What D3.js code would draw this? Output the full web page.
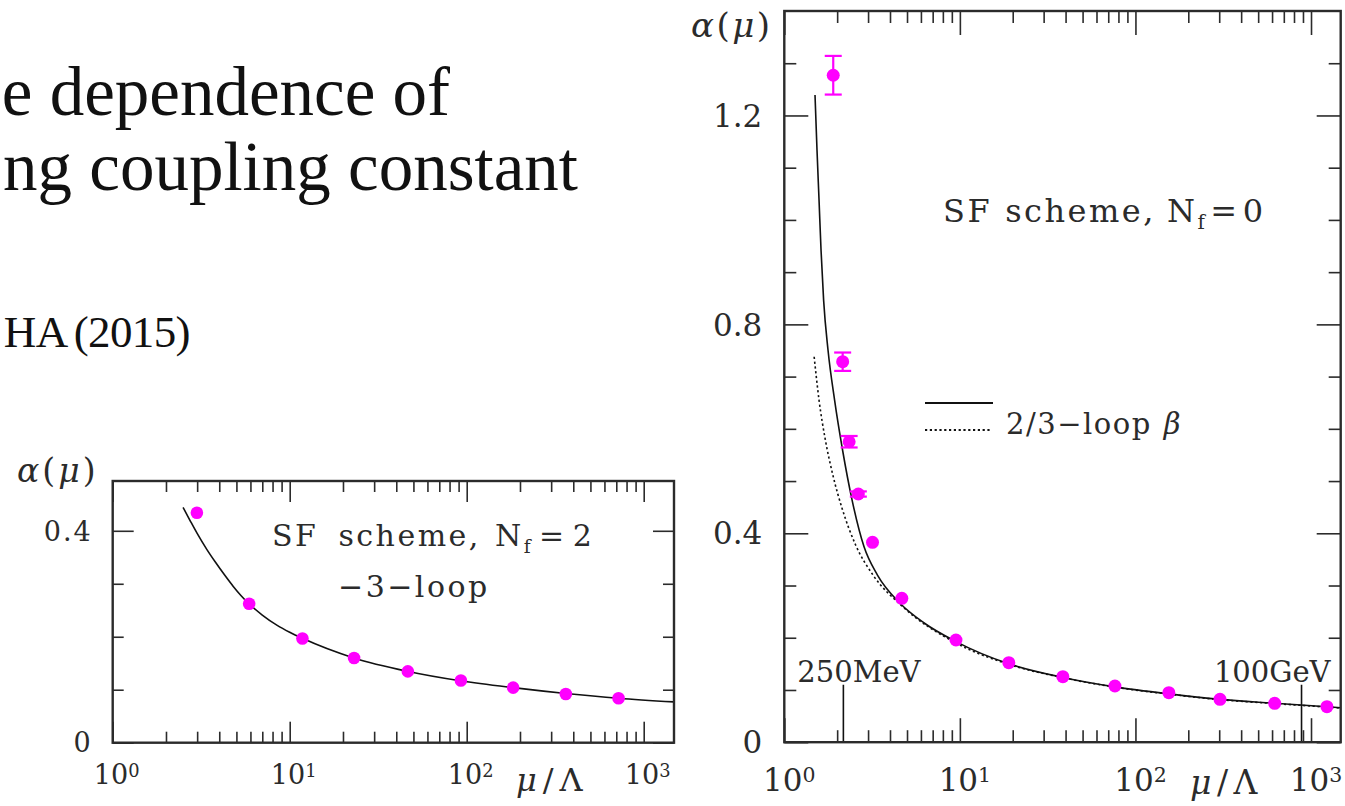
<!DOCTYPE html>
<html>
<head>
<meta charset="utf-8">
<script src="https://cdn.jsdelivr.net/npm/d3@7"></script>
<style>
html, body { margin: 0; padding: 0; background: #fff; }
svg { display: block; }
</style>
</head>
<body>
<div id="chart"></div>
<script>
// ---- data ----
const titleLines = ["e dependence of", "ng coupling constant"];
const citation = ["HA", "(2015)"];

// left panel: SF scheme, Nf=2
const leftMu = [2.99, 5.9, 11.8, 23.1, 46.5, 92.7, 183, 363, 721];
const leftAlpha = [0.434, 0.2622, 0.1968, 0.160, 0.1346, 0.1175, 0.104, 0.092, 0.0838];
const leftCurveMu = [2.5, 2.75, 3.0, 3.4, 3.8, 4.3, 4.8, 5.3, 5.9, 7, 8.5, 10, 11.8, 23, 46, 92, 183, 363, 721, 1483];
const leftCurveAlpha = [0.444, 0.418, 0.395, 0.365, 0.341, 0.316, 0.295, 0.278, 0.262, 0.241, 0.2215, 0.2085, 0.197, 0.160, 0.135, 0.117, 0.104, 0.093, 0.084, 0.077];
const leftYMinor = [0.1, 0.2, 0.3];
const leftYMajor = [0, 0.4];

// right panel: SF scheme, Nf=0
const rightMu = [1.90, 2.15, 2.34, 2.64, 3.18, 4.67, 9.5, 19.0, 38.6, 76.4, 155, 303, 621, 1232];
const rightAlpha = [1.277, 0.7285, 0.5753, 0.4752, 0.3827, 0.2755, 0.1957, 0.1523, 0.1255, 0.1076, 0.0948, 0.0821, 0.0745, 0.068];
const rightErr = [0.037, 0.0176, 0.011, 0.005, 0, 0, 0, 0, 0, 0, 0, 0, 0, 0];
const solidMu = [1.496, 1.536, 1.577, 1.619, 1.675, 1.774, 1.934, 2.148, 2.431, 2.846, 3.393, 4.546, 6.26, 9.5, 19, 38.6, 76.4, 155, 303, 621, 1476];
const solidAlpha = [1.239, 1.133, 1.038, 0.942, 0.846, 0.751, 0.655, 0.559, 0.464, 0.374, 0.320, 0.2665, 0.2282, 0.1925, 0.150, 0.124, 0.106, 0.0925, 0.082, 0.0745, 0.066];
const dottedMu = [1.479, 1.577, 1.715, 1.889, 2.146, 2.545, 3.202, 4.667, 9.5, 19, 38.6, 76.4, 155, 303, 621, 1476];
const dottedAlpha = [0.738, 0.655, 0.578, 0.512, 0.445, 0.378, 0.320, 0.261, 0.190, 0.149, 0.1235, 0.1055, 0.092, 0.0815, 0.074, 0.0655];
const rightYMinor = [0.1, 0.2, 0.3, 0.5, 0.6, 0.7, 0.9, 1.0, 1.1, 1.3];
const rightYMajor = [0, 0.4, 0.8, 1.2];
const markerMu = [2.17, 883];
const markerLabels = ["250MeV", "100GeV"];

const decades = [1, 10, 100, 1000];
const decadeExp = ["0", "1", "2", "3"];

// ---- page ----
const W = 1345, H = 806;
const ink = "#2b2b2b";
const magenta = "#ff00ff";
const serif = "DejaVu Serif";

const svg = d3.select("#chart").append("svg")
    .attr("width", W)
    .attr("height", H);

svg.append("rect").attr("width", W).attr("height", H).attr("fill", "#fff");

// title fragment (the slide text is cropped at the left)
const title = svg.append("g")
    .attr("font-family", "Liberation Serif")
    .attr("fill", "#111")
    .attr("text-anchor", "end");
title.append("text").attr("x", 450).attr("y", 115).attr("font-size", 69).text(titleLines[0]);
title.append("text").attr("x", 578).attr("y", 190).attr("font-size", 69).text(titleLines[1]);
const cit = title.append("text").attr("x", 190).attr("y", 347).attr("font-size", 45)
    .attr("letter-spacing", -0.6);
cit.append("tspan").text(citation[0]);
cit.append("tspan").attr("dx", 6).text(citation[1]);

function drawFrame(g, x, y, p) {
    const [xa, xb] = x.range();
    const [ya, yb] = y.range();
    const minorX = x.ticks().filter(v => !decades.includes(v));

    const styleTicks = sel => {
        sel.select(".domain").remove();
        sel.selectAll("line").attr("stroke", ink).attr("stroke-width", 1.6);
        sel.selectAll("text").remove();
    };

    g.append("g").attr("transform", `translate(0,${ya})`)
        .call(d3.axisBottom(x).tickValues(minorX).tickSize(-p.minor)).call(styleTicks);
    g.append("g").attr("transform", `translate(0,${ya})`)
        .call(d3.axisBottom(x).tickValues(decades).tickSize(-p.major)).call(styleTicks);
    g.append("g").attr("transform", `translate(0,${yb})`)
        .call(d3.axisTop(x).tickValues(minorX).tickSize(-p.minor)).call(styleTicks);
    g.append("g").attr("transform", `translate(0,${yb})`)
        .call(d3.axisTop(x).tickValues(decades).tickSize(-p.major)).call(styleTicks);

    g.append("g").attr("transform", `translate(${xa},0)`)
        .call(d3.axisLeft(y).tickValues(p.yMinor).tickSize(-p.minor)).call(styleTicks);
    g.append("g").attr("transform", `translate(${xa},0)`)
        .call(d3.axisLeft(y).tickValues(p.yMajor).tickSize(-p.major)).call(styleTicks);
    g.append("g").attr("transform", `translate(${xb},0)`)
        .call(d3.axisRight(y).tickValues(p.yMinor).tickSize(-p.minor)).call(styleTicks);
    g.append("g").attr("transform", `translate(${xb},0)`)
        .call(d3.axisRight(y).tickValues(p.yMajor).tickSize(-p.major)).call(styleTicks);

    g.append("rect")
        .attr("x", xa).attr("y", yb)
        .attr("width", xb - xa).attr("height", ya - yb)
        .attr("fill", "none")
        .attr("stroke", ink)
        .attr("stroke-width", 2.4);

    // tick labels
    const labels = g.append("g")
        .attr("font-family", serif)
        .attr("font-size", p.fontSize)
        .attr("fill", ink);

    labels.selectAll("text.yl")
        .data(p.yMajor)
        .join("text")
        .attr("class", "yl")
        .attr("x", xa - p.yLabelGap)
        .attr("y", d => y(d))
        .attr("dy", "0.36em")
        .attr("text-anchor", "end")
        .attr("letter-spacing", p.labelSpacing)
        .text(d => d === 0 ? "0" : d3.format(".1f")(d));

    labels.selectAll("text.xl")
        .data(decades)
        .join("text")
        .attr("class", "xl")
        .attr("x", d => x(d) + p.xLabelShift)
        .attr("y", p.xLabelY)
        .attr("text-anchor", "middle")
        .each(function (d, i) {
            const t = d3.select(this);
            t.append("tspan").text("10");
            t.append("tspan").attr("dy", "-0.42em").attr("font-size", "0.66em").text(decadeExp[i]);
        });

    // axis titles
    const yt = g.append("text")
        .attr("font-family", serif)
        .attr("font-size", p.yTitleSize)
        .attr("letter-spacing", p.yTitleSpacing)
        .attr("fill", ink)
        .attr("x", p.yTitle[0]).attr("y", p.yTitle[1]);
    yt.append("tspan").attr("font-style", "italic").text("α");
    yt.append("tspan").text("(");
    yt.append("tspan").attr("font-style", "italic").text("μ");
    yt.append("tspan").text(")");

    const xt = g.append("text")
        .attr("font-family", serif)
        .attr("font-size", p.xTitleSize)
        .attr("letter-spacing", p.xTitleSpacing)
        .attr("fill", ink)
        .attr("x", p.xTitle[0]).attr("y", p.xTitle[1]);
    xt.append("tspan").attr("font-style", "italic").text("μ");
    xt.append("tspan").text("/Λ");
}

function schemeLabel(g, x0, y0, size, spacing, gaps, nf) {
    const t = g.append("text")
        .attr("font-family", serif)
        .attr("font-size", size)
        .attr("letter-spacing", spacing)
        .attr("fill", ink)
        .attr("x", x0).attr("y", y0);
    t.append("tspan").text("SF");
    t.append("tspan").attr("dx", gaps[0]).text("scheme,");
    t.append("tspan").attr("dx", gaps[1]).text("N");
    t.append("tspan").attr("font-size", size * 0.62).attr("dy", size * 0.22).text("f");
    t.append("tspan").attr("dy", -size * 0.22).attr("dx", gaps[2]).text("=");
    t.append("tspan").attr("dx", gaps[2]).text(nf);
}

const line = (x, y) => d3.line()
    .x(d => x(d[0]))
    .y(d => y(d[1]))
    .curve(d3.curveMonotoneX);

// ---- left panel ----
const xL = d3.scaleLog().domain([1, 1483]).range([112.7, 674]);
const yL = d3.scaleLinear().domain([0, 0.494]).range([742.7, 481]);
const gL = svg.append("g");

gL.append("path")
    .attr("d", line(xL, yL)(d3.zip(leftCurveMu, leftCurveAlpha)))
    .attr("fill", "none")
    .attr("stroke", "#111")
    .attr("stroke-width", 1.6);

gL.selectAll("circle")
    .data(d3.zip(leftMu, leftAlpha))
    .join("circle")
    .attr("cx", d => xL(d[0]))
    .attr("cy", d => yL(d[1]))
    .attr("r", 6.3)
    .attr("fill", magenta);

drawFrame(gL, xL, yL, {
    minor: 11, major: 21,
    yMinor: leftYMinor, yMajor: leftYMajor,
    fontSize: 27, labelSpacing: 2, yLabelGap: 20, xLabelY: 784, xLabelShift: 4,
    yTitleSize: 33, yTitleSpacing: 3, yTitle: [17, 482],
    xTitleSize: 32, xTitleSpacing: 6, xTitle: [516, 791]
});

schemeLabel(gL, 272, 546, 30, 2.5, [20, 14, 6], 2);
gL.append("text")
    .attr("font-family", serif)
    .attr("font-size", 30)
    .attr("letter-spacing", 2.5)
    .attr("fill", ink)
    .attr("x", 338).attr("y", 597)
    .text("−3−loop");

// ---- right panel ----
const xR = d3.scaleLog().domain([1, 1476]).range([784.3, 1340.7]);
const yR = d3.scaleLinear().domain([0, 1.4]).range([742.2, 11]);
const gR = svg.append("g");

gR.append("path")
    .attr("d", line(xR, yR)(d3.zip(solidMu, solidAlpha)))
    .attr("fill", "none")
    .attr("stroke", "#111")
    .attr("stroke-width", 1.6);

gR.append("path")
    .attr("d", line(xR, yR)(d3.zip(dottedMu, dottedAlpha)))
    .attr("fill", "none")
    .attr("stroke", "#111")
    .attr("stroke-width", 1.6)
    .attr("stroke-dasharray", "2.2,2.6");

// energy markers
gR.selectAll("line.marker")
    .data(markerMu)
    .join("line")
    .attr("class", "marker")
    .attr("x1", d => xR(d)).attr("x2", d => xR(d))
    .attr("y1", yR(0)).attr("y2", yR(0.11))
    .attr("stroke", "#111")
    .attr("stroke-width", 1.6);

gR.selectAll("text.marker")
    .data(markerMu)
    .join("text")
    .attr("class", "marker")
    .attr("font-family", serif)
    .attr("font-size", 29)
    .attr("fill", ink)
    .attr("x", (d, i) => i === 0 ? xR(d) - 46 : xR(d) + 29)
    .attr("y", yR(0.116))
    .attr("text-anchor", (d, i) => i === 0 ? "start" : "end")
    .text((d, i) => markerLabels[i]);

// error bars
const pts = d3.zip(rightMu, rightAlpha, rightErr);
const eb = gR.append("g").attr("stroke", magenta).attr("stroke-width", 2.2);
pts.filter(d => d[2] > 0).forEach(d => {
    const cx = xR(d[0]);
    eb.append("line").attr("x1", cx).attr("x2", cx).attr("y1", yR(d[1] - d[2])).attr("y2", yR(d[1] + d[2]));
    [d[1] - d[2], d[1] + d[2]].forEach(v => {
        eb.append("line").attr("x1", cx - 8.5).attr("x2", cx + 8.5).attr("y1", yR(v)).attr("y2", yR(v));
    });
});

gR.selectAll("circle")
    .data(pts)
    .join("circle")
    .attr("cx", d => xR(d[0]))
    .attr("cy", d => yR(d[1]))
    .attr("r", 6.5)
    .attr("fill", magenta);

drawFrame(gR, xR, yR, {
    minor: 12, major: 24,
    yMinor: rightYMinor, yMajor: rightYMajor,
    fontSize: 31, labelSpacing: 0, yLabelGap: 22, xLabelY: 791, xLabelShift: 5,
    yTitleSize: 34, yTitleSpacing: 2.5, yTitle: [691, 37],
    xTitleSize: 33, xTitleSpacing: 5.5, xTitle: [1190, 794]
});

schemeLabel(gR, 943, 222, 32, 2.5, [13, 11, 3], 0);

// legend
const lg = gR.append("g");
lg.append("line").attr("x1", 925).attr("x2", 993).attr("y1", 403).attr("y2", 403)
    .attr("stroke", "#111").attr("stroke-width", 2);
lg.append("line").attr("x1", 925).attr("x2", 990).attr("y1", 430).attr("y2", 430)
    .attr("stroke", "#111").attr("stroke-width", 1.8).attr("stroke-dasharray", "2.2,2.6");
const lt = lg.append("text")
    .attr("font-family", serif)
    .attr("font-size", 29)
    .attr("letter-spacing", 1.5)
    .attr("fill", ink)
    .attr("x", 1006).attr("y", 434);
lt.append("tspan").text("2/3−loop");
lt.append("tspan").attr("dx", 12).attr("font-style", "italic").text("β");
</script>
</body>
</html>
